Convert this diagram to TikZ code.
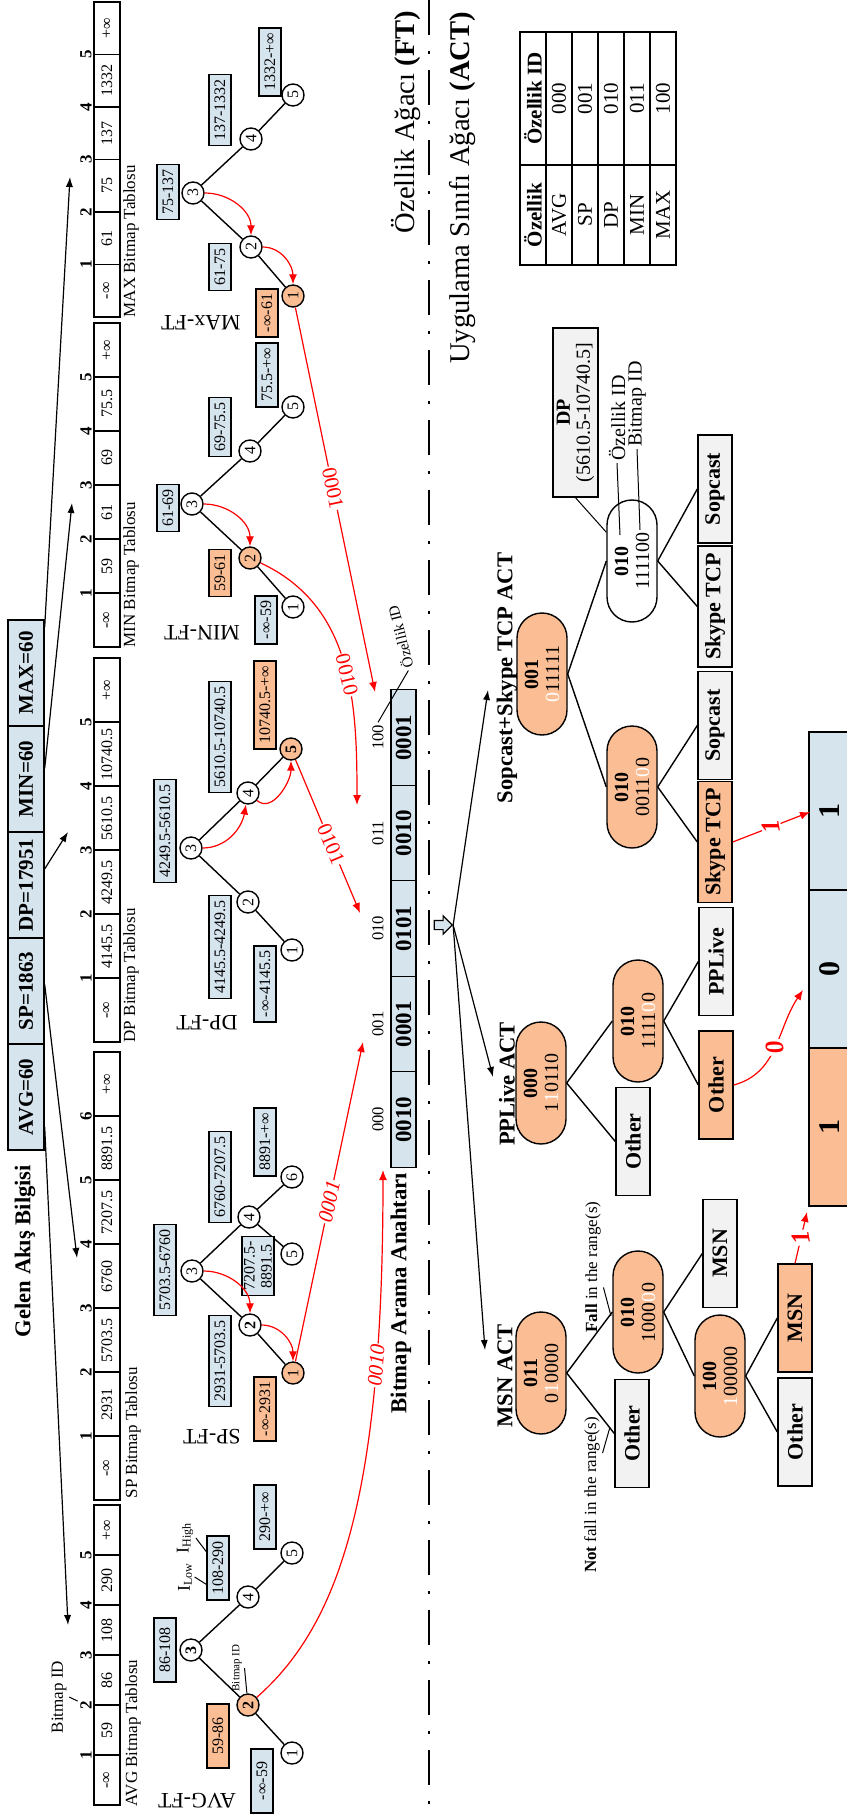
\documentclass[tikz,border=0pt]{standalone}
\usepackage{fontspec}
\setmainfont{Liberation Serif}
\usepackage{graphicx}
\usetikzlibrary{arrows.meta,shapes.misc,shapes.arrows,calc}

\definecolor{cellblue}{RGB}{214,228,238}
\definecolor{peach}{RGB}{251,190,148}
\definecolor{leafgray}{RGB}{242,242,242}

\tikzset{
  lbl/.style={rotate=90,inner sep=1pt},
  cellnum/.style={lbl,font=\fontsize{8}{9}\selectfont},
  idx/.style={lbl,font=\bfseries\fontsize{8.5}{9}\selectfont},
  tabcap/.style={lbl,anchor=west,inner sep=0pt,font=\fontsize{8.5}{9}\selectfont},
  flowbox/.style={lbl,draw,fill=cellblue,minimum width=53pt,minimum height=18pt,
    font=\bfseries\fontsize{10.5}{11}\selectfont},
  ftnode/.style={circle,draw,fill=white,minimum size=11pt,inner sep=0pt,
    font=\fontsize{8}{8}\selectfont},
  ivbox/.style={lbl,draw,fill=cellblue,minimum height=11pt,inner xsep=2.5pt,
    inner ysep=1pt,align=center,font=\fontsize{8}{8.5}\selectfont},
  ftname/.style={rotate=180,font=\fontsize{11}{11}\selectfont},
  keycell/.style={lbl,draw,fill=cellblue,minimum width=47.75pt,minimum height=12.5pt,
    font=\bfseries\fontsize{11.5}{12}\selectfont},
  keyid/.style={lbl,font=\fontsize{8.3}{9}\selectfont},
  actnode/.style={lbl,rounded rectangle,draw,fill=peach,minimum width=61pt,
    minimum height=25pt,inner sep=0pt,align=center,font=\fontsize{10}{10.5}\selectfont},
  leaf/.style={lbl,draw,fill=leafgray,minimum width=54pt,minimum height=17pt,
    inner xsep=3.5pt,font=\bfseries\fontsize{11}{11}\selectfont},
  actname/.style={lbl,font=\bfseries\fontsize{11.3}{12}\selectfont},
  rescell/.style={lbl,draw,minimum width=79pt,minimum height=21pt,
    font=\bfseries\fontsize{15}{15}\selectfont},
  lead/.style={line width=0.5pt},
  redarr/.style={red,line width=0.6pt,-{Latex[length=5pt,width=4pt]}},
  redrev/.style={red,line width=0.6pt,{Latex[length=5pt,width=4pt]}-},
  blkarr/.style={line width=0.6pt,-{Latex[length=5pt,width=3.6pt]}},
  redlbl/.style={fill=white,inner sep=0.5pt,font=\fontsize{10.5}{11}\selectfont},
  reslbl/.style={fill=white,inner sep=0.5pt,font=\bfseries\itshape\fontsize{13}{13}\selectfont},
}

\begin{document}
\begin{tikzpicture}[x=0.5pt,y=0.5pt,line width=0.7pt]
\useasboundingbox (0,0) rectangle (846,-1818);

% incoming flow info
\node[lbl,font=\bfseries\fontsize{11.3}{12}\selectfont] (gab) at (25,-1251) {Gelen Akış Bilgisi};
\node[flowbox] (f1) at (26,-1097) {AVG=60};
\node[flowbox] (f2) at (26,-991) {SP=1863};
\node[flowbox] (f3) at (26,-885) {DP=17951};
\node[flowbox] (f4) at (26,-779) {MIN=60};
\node[flowbox] (f5) at (26,-673) {MAX=60};
\coordinate (tavg) at (68,-1625);
\coordinate (tsp) at (77,-1258);
\coordinate (tdp) at (68,-832);
\coordinate (tmin) at (72,-503);
\coordinate (tmax) at (70,-177);
\draw[blkarr] ($(f1.south west)!0.22!(f1.south east)$) -- (tavg);
\draw[blkarr] ($(f2.south west)!0.56!(f2.south east)$) -- (tsp);
\draw[blkarr] ($(f3.south west)!0.65!(f3.south east)$) -- (tdp);
\draw[blkarr] ($(f4.south west)!0.6!(f4.south east)$) -- (tmin);
\draw[blkarr] ($(f5.south west)!0.93!(f5.south east)$) -- (tmax);

% bitmap tables
\foreach \v [count=\i] in {-∞,59,86,108,290,+∞}{
  \draw (94,{-1805+(\i-1)*50}) rectangle (120,{-1805+\i*50});
  \node[cellnum] (avgc\i) at (107,{-1805+(\i-0.5)*50}) {\v};
}
\foreach \i in {1,...,5}
  \node[idx] (avgi\i) at (86,{-1805+\i*50}) {\i};
\node[tabcap] (avgcap) at (133,-1807) {AVG Bitmap Tablosu};

\foreach \v [count=\i] in {-∞,2931,5703.5,6760,7207.5,8891.5,+∞}{
  \draw (94,{-1500+(\i-1)*64}) rectangle (120,{-1500+\i*64});
  \node[cellnum] (spc\i) at (107,{-1500+(\i-0.5)*64}) {\v};
}
\foreach \i in {1,...,6}
  \node[idx] (spi\i) at (86,{-1500+\i*64}) {\i};
\node[tabcap] (spcap) at (133,-1499) {SP Bitmap Tablosu};

\foreach \v [count=\i] in {-∞,4145.5,4249.5,5610.5,10740.5,+∞}{
  \draw (94,{-1042+(\i-1)*64}) rectangle (120,{-1042+\i*64});
  \node[cellnum] (dpc\i) at (107,{-1042+(\i-0.5)*64}) {\v};
}
\foreach \i in {1,...,5}
  \node[idx] (dpi\i) at (86,{-1042+\i*64}) {\i};
\node[tabcap] (dpcap) at (131,-1043) {DP Bitmap Tablosu};

\foreach \v [count=\i] in {-∞,59,61,69,75.5,+∞}{
  \draw (94,{-647+(\i-1)*54}) rectangle (120,{-647+\i*54});
  \node[cellnum] (minc\i) at (107,{-647+(\i-0.5)*54}) {\v};
}
\foreach \i in {1,...,5}
  \node[idx] (mini\i) at (86,{-647+\i*54}) {\i};
\node[tabcap] (mincap) at (131,-648) {MIN Bitmap Tablosu};

\foreach \v [count=\i] in {-∞,61,75,137,1332,+∞}{
  \draw (94,{-317+(\i-1)*52.5}) rectangle (120,{-317+\i*52.5});
  \node[cellnum] (maxc\i) at (107,{-317+(\i-0.5)*52.5}) {\v};
}
\foreach \i in {1,...,5}
  \node[idx] (maxi\i) at (86,{-317+\i*52.5}) {\i};
\node[tabcap] (maxcap) at (131,-318) {MAX Bitmap Tablosu};

\node[lbl,font=\fontsize{8.5}{9}\selectfont] (bidt) at (59,-1697) {Bitmap ID};
\draw[lead] (bidt.south) -- (avgi2);

% AVG-FT
\node[ftnode] (avg3) at (191,-1650) {\rotatebox{90}{\textbf{3}}};
\node[ftnode,fill=peach] (avg2) at (248,-1705) {\rotatebox{90}{\textbf{2}}};
\node[ftnode] (avg1) at (292,-1753) {\rotatebox{90}{1}};
\node[ftnode] (avg4) at (248,-1597) {\rotatebox{90}{4}};
\node[ftnode] (avg5) at (292,-1553) {\rotatebox{90}{5}};
\draw (avg3) -- (avg2) (avg2) -- (avg1) (avg3) -- (avg4) (avg4) -- (avg5);
\node[ivbox,minimum width=32pt] (avgb3) at (165,-1650) {86-108};
\node[ivbox,minimum width=32pt,fill=peach] (avgb2) at (218,-1736) {59-86};
\node[ivbox,minimum width=32pt] (avgb1) at (262,-1781) {-∞-59};
\node[ivbox,minimum width=32pt] (avgb4) at (218,-1568) {108-290};
\node[ivbox,minimum width=32pt] (avgb5) at (265,-1517) {290-+∞};
\node[ftname] (avgft) at (197,-1801) {AVG-FT};
\node[lbl,font=\fontsize{9}{9}\selectfont] (ilow) at (185,-1577) {I\textsubscript{Low}};
\node[lbl,font=\fontsize{9}{9}\selectfont] (ihigh) at (185,-1538) {I\textsubscript{High}};
\draw[lead] (ilow.south) -- ($(avgb4.north west)!0.25!(avgb4.north east)$);
\draw[lead] (ihigh.south) -- ($(avgb4.north west)!0.75!(avgb4.north east)$);
\node[lbl,font=\fontsize{5.5}{6}\selectfont] (bidn) at (237,-1668) {Bitmap ID};
\draw[lead] (bidn.south) -- (avg2);

% SP-FT
\node[ftnode] (sp3) at (192,-1271) {\rotatebox{90}{3}};
\node[ftnode] (sp2) at (250,-1325) {\rotatebox{90}{\textbf{2}}};
\node[ftnode,fill=peach] (sp1) at (293,-1373) {\rotatebox{90}{1}};
\node[ftnode] (sp4) at (249,-1217) {\rotatebox{90}{4}};
\node[ftnode] (sp5) at (292,-1254) {\rotatebox{90}{5}};
\node[ftnode] (sp6) at (292,-1177) {\rotatebox{90}{6}};
\draw (sp3) -- (sp2) (sp2) -- (sp1) (sp3) -- (sp4) (sp4) -- (sp5) (sp4) -- (sp6);
\node[ivbox] (spb3) at (165,-1270) {5703.5-6760};
\node[ivbox] (spb2) at (220,-1361) {2931-5703.5};
\node[ivbox,fill=peach] (spb1) at (265,-1409) {-∞-2931};
\node[ivbox] (spb4) at (220,-1177) {6760-7207.5};
\node[ivbox] (spb5) at (258,-1266) {7207.5-\\8891.5};
\node[ivbox] (spb6) at (265,-1142) {8891-+∞};
\node[ftname] (spft) at (212,-1437) {SP-FT};
\draw[redarr] (sp3) to[out=0,in=90] (sp2);
\draw[redarr] (sp2) to[out=0,in=90] (sp1);

% DP-FT
\node[ftnode] (dp3) at (191,-848) {\rotatebox{90}{3}};
\node[ftnode] (dp2) at (248,-902) {\rotatebox{90}{2}};
\node[ftnode] (dp1) at (292,-950) {\rotatebox{90}{1}};
\node[ftnode] (dp4) at (248,-793) {\rotatebox{90}{4}};
\node[ftnode,fill=peach] (dp5) at (291,-749) {\rotatebox{90}{\textbf{5}}};
\draw (dp3) -- (dp2) (dp2) -- (dp1) (dp3) -- (dp4) (dp4) -- (dp5);
\node[ivbox] (dpb3) at (165,-831) {4249.5-5610.5};
\node[ivbox] (dpb2) at (220,-947) {4145.5-4249.5};
\node[ivbox] (dpb1) at (265,-984) {-∞-4145.5};
\node[ivbox] (dpb4) at (220,-737) {5610.5-10740.5};
\node[ivbox,fill=peach] (dpb5) at (265,-705) {10740.5-+∞};
\node[ftname] (dpft) at (207,-1023) {DP-FT};
\draw[redarr] (dp3) to[out=0,in=-100] (dp4);
\draw[redarr] (dp4) to[out=-40,in=-90] (dp5);

% MIN-FT
\node[ftnode] (min3) at (192,-504) {\rotatebox{90}{3}};
\node[ftnode,fill=peach] (min2) at (250,-558) {\rotatebox{90}{2}};
\node[ftnode] (min1) at (293,-607) {\rotatebox{90}{1}};
\node[ftnode] (min4) at (250,-451) {\rotatebox{90}{4}};
\node[ftnode] (min5) at (293,-407) {\rotatebox{90}{5}};
\draw (min3) -- (min2) (min2) -- (min1) (min3) -- (min4) (min4) -- (min5);
\node[ivbox] (minb3) at (168,-508) {61-69};
\node[ivbox,fill=peach] (minb2) at (220,-573) {59-61};
\node[ivbox] (minb1) at (266,-620) {-∞-59};
\node[ivbox] (minb4) at (220,-427) {69-75.5};
\node[ivbox] (minb5) at (267,-375) {75.5-+∞};
\node[ftname] (minft) at (202,-633) {MIN-FT};
\draw[redarr] (min3) to[out=0,in=90] (min2);

% MAX-FT
\node[ftnode] (max3) at (193,-193) {\rotatebox{90}{3}};
\node[ftnode] (max2) at (251,-247) {\rotatebox{90}{2}};
\node[ftnode,fill=peach] (max1) at (293,-296) {\rotatebox{90}{1}};
\node[ftnode] (max4) at (251,-139) {\rotatebox{90}{4}};
\node[ftnode] (max5) at (293,-95) {\rotatebox{90}{5}};
\draw (max3) -- (max2) (max2) -- (max1) (max3) -- (max4) (max4) -- (max5);
\node[ivbox] (maxb3) at (168,-192) {75-137};
\node[ivbox] (maxb2) at (220,-267) {61-75};
\node[ivbox,fill=peach] (maxb1) at (267,-313) {-∞-61};
\node[ivbox] (maxb4) at (220,-110) {137-1332};
\node[ivbox] (maxb5) at (270,-62) {1332-+∞};
\node[ftname] (maxft) at (201,-323) {MAx-FT};
\draw[redarr] (max3) to[out=0,in=90] (max2);
\draw[redarr] (max2) to[out=0,in=90] (max1);

% bitmap search key
\foreach \bits/\fid [count=\i] in {0010/000,0001/001,0101/010,0010/011,0001/100}{
  \node[keycell] (k\i) at (403.5,{-1119.5+(\i-1)*95.5}) {\bits};
  \node[keyid] (kl\i) at (378,{-1119.5+(\i-1)*95.5}) {\fid};
}
\node[lbl,font=\bfseries\fontsize{11.4}{12}\selectfont] (bak) at (401,-1293) {Bitmap Arama Anahtarı};
\node[rotate=104,inner sep=1pt,font=\fontsize{7.5}{8}\selectfont] (ozid) at (400,-637) {Özellik ID};
\draw[lead] (kl5.east) -- (ozid.west);

\coordinate (avgtip) at (383,-1170);
\coordinate (sptip) at (363,-1042);
\coordinate (dptip) at (360,-913);
\coordinate (mintip) at (357,-805);
\coordinate (maxtip) at (375,-692);
\draw[redarr] (avg2) .. controls (345,-1620) and (383,-1480) .. node[redlbl,sloped,pos=0.76] {\textit{0010}} (avgtip);
\draw[redarr] (sp1) -- node[redlbl,sloped] {\textit{0001}} (sptip);
\draw[redrev] (dptip) -- node[redlbl,sloped,pos=0.45] {0101} (dp5);
\draw[redrev] (mintip) to[out=90,in=-25] node[redlbl,sloped,pos=0.45] {0010} (min2);
\draw[redrev] (maxtip) -- node[redlbl,sloped,pos=0.53] {0001} (max1);

% separator and titles
\draw[line width=1pt,dash pattern=on 17.5pt off 8pt on 1.5pt off 8pt] (429,0) -- (429,-1818);
\node[lbl,font=\fontsize{14.3}{15}\selectfont] (ftt) at (406,-122) {Özellik Ağacı \textbf{(FT)}};
\node[lbl,font=\fontsize{14.3}{15}\selectfont] (actt) at (463,-188) {Uygulama Sınıfı Ağacı \textbf{(ACT)}};

% feature id table
\draw (520,-32) rectangle (676,-265);
\foreach \x in {546,572,598,624,650} \draw (\x,-32) -- (\x,-265);
\draw (520,-165) -- (676,-165);
\node[lbl,font=\bfseries\fontsize{10.5}{11}\selectfont] (th1) at (533,-215) {Özellik};
\node[lbl,font=\bfseries\fontsize{10.5}{11}\selectfont] (th2) at (533,-98.5) {Özellik ID};
\foreach \f/\id [count=\i] in {AVG/000,SP/001,DP/010,MIN/011,MAX/100}{
  \node[lbl,font=\fontsize{10.5}{11}\selectfont] (tf\i) at ({533+\i*26},-215) {\f};
  \node[lbl,font=\fontsize{10.5}{11}\selectfont] (ti\i) at ({533+\i*26},-98.5) {\id};
}

% search key fan-out
\node[single arrow,draw,fill=cellblue,minimum height=9pt,minimum width=0pt,
  single arrow head extend=2.3pt,inner xsep=0pt,inner ysep=2pt,line width=0.6pt] (keyarr) at (441,-925) {};
\coordinate (sactp) at (488,-690);
\coordinate (pactp) at (493,-1077);
\coordinate (mactp) at (485,-1350);
\draw[blkarr] (keyarr.tip) -- (sactp);
\draw[blkarr] (keyarr.tip) -- (pactp);
\draw[blkarr] (keyarr.tip) -- (mactp);

% Sopcast+Skype TCP ACT
\node[actname] (sact) at (507,-678) {Sopcast+Skype TCP ACT};
\node[actnode] (sroot) at (542,-674) {\textbf{001}\\\textcolor{white}{0}11111};
\node[actnode,fill=white] (swhite) at (632,-561) {\textbf{010}\\111100};
\node[actnode] (speach) at (632,-787) {\textbf{010}\\0011\textcolor{white}{0}0};
\node[leaf] (sl1) at (715,-489) {Sopcast};
\node[leaf] (sl2) at (715,-606.5) {Skype TCP};
\node[leaf] (sl3) at (715,-725.5) {Sopcast};
\node[leaf,fill=peach] (sl4) at (715,-842) {Skype TCP};
\draw (sroot.south) -- (swhite.north) (sroot.south) -- (speach.north);
\draw (swhite.south) -- (sl1.north) (swhite.south) -- (sl2.north);
\draw (speach.south) -- (sl3.north) (speach.south) -- (sl4.north);
\node[lbl,draw,fill=leafgray,minimum width=84.5pt,minimum height=22.5pt,align=center,
  font=\fontsize{10}{10}\selectfont] (dpbox) at (575.5,-412.5) {\textbf{DP}\\(5610.5-10740.5]};
\draw[lead] (dpbox.west) -- (swhite);
\node[lbl,font=\fontsize{10}{10}\selectfont] (aoz) at (617,-418) {Özellik ID};
\node[lbl,font=\fontsize{10}{10}\selectfont] (abm) at (637,-404) {Bitmap ID};
\coordinate (ozend) at (620,-535);
\coordinate (bmend) at (640,-530);
\draw[lead] (aoz.west) -- (ozend);
\draw[lead] (abm.west) -- (bmend);

% PPLive ACT
\node[actname] (pact) at (507,-1084) {PPLive ACT};
\node[actnode] (proot) at (541,-1083) {\textbf{000}\\1\textcolor{white}{1}0110};
\node[actnode] (pchild) at (638,-1021) {\textbf{010}\\1111\textcolor{white}{0}0};
\node[leaf] (pl0) at (633,-1141.5) {Other};
\node[leaf] (pl1) at (716,-961.5) {PPLive};
\node[leaf,fill=peach] (pl2) at (716,-1085) {Other};
\draw (proot.south) -- (pchild.north) (proot.south) -- (pl0.north);
\draw (pchild.south) -- (pl1.north) (pchild.south) -- (pl2.north);

% MSN ACT
\node[actname] (mact) at (505,-1376) {MSN ACT};
\node[actnode] (mroot) at (541,-1373) {\textbf{011}\\0\textcolor{white}{1}0000};
\node[actnode] (mchild) at (638,-1312) {\textbf{010}\\1000\textcolor{white}{0}0};
\node[actnode] (m100) at (720,-1376) {\textbf{100}\\\textcolor{white}{1}00000};
\node[leaf] (ml0) at (632,-1433.5) {Other};
\node[leaf] (ml1) at (720,-1253.5) {MSN};
\node[leaf,fill=peach] (ml2) at (795,-1318) {MSN};
\node[leaf] (ml3) at (795,-1432) {Other};
\draw (mroot.south) -- (mchild.north) (mroot.south) -- (ml0.north);
\draw (mchild.south) -- (ml1.north) (mchild.south) -- (m100.north);
\draw (m100.south) -- (ml2.north) (m100.south) -- (ml3.north);
\node[lbl,font=\fontsize{8.5}{9}\selectfont] (fall) at (593,-1267) {\textbf{Fall} in the range(s)};
\node[lbl,font=\fontsize{8.5}{9}\selectfont] (nfall) at (592,-1495) {\textbf{Not} fall in the range(s)};
\coordinate (fallpt) at (611,-1316);
\coordinate (nfallpt) at (610,-1427);
\draw[lead] ($(fall.south west)!0.35!(fall.south east)$) -- (fallpt);
\draw[lead] ($(nfall.south west)!0.76!(nfall.south east)$) -- (nfallpt);

% result bitmap
\node[rescell,fill=cellblue] (r1) at (830,-811) {1};
\node[rescell,fill=cellblue] (r2) at (830,-969) {0};
\node[rescell,fill=peach] (r3) at (830,-1127) {1};
\coordinate (rt1) at (810,-812);
\coordinate (rt2) at (803,-990);
\coordinate (rt3) at (807,-1212);
\draw[redarr] (sl4.south) -- node[reslbl,rotate=100] {1} (rt1);
\draw[redarr] (pl2.south) to[out=15,in=-124] node[reslbl,rotate=100] {0} (rt2);
\draw[redarr] (ml2.east) -- node[reslbl,rotate=100] {1} (rt3);
\end{tikzpicture}
\end{document}
